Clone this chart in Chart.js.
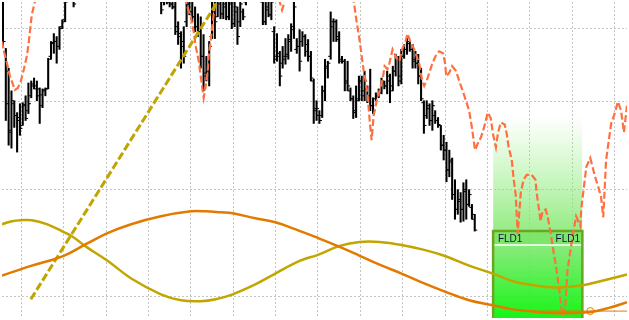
<!DOCTYPE html>
<html>
<head>
<meta charset="utf-8">
<script src="https://cdn.jsdelivr.net/npm/chart.js@4.4.1/dist/chart.umd.min.js"></script>
<style>
  html, body { margin: 0; padding: 0; background: #fff; }
  #wrap { width: 629px; height: 320px; }
</style>
</head>
<body>
<div id="wrap"><canvas id="cycleChart" width="629" height="320"></canvas></div>
<script>
// grid lines (bar index / price level)
var xGrid = [6.5, 21.5, 36.5, 51.5, 66.5, 81.5, 96.5, 111.5, 126.5, 141.5, 156.5, 171.5, 186.5, 201.5, 216.5];
var yGrid = [22, 130, 219, 293];

// OHLC bars, one per index 0..167
var priceHigh = [330,273,253,230,220,208,217,218,225,238, 240,243,240,233,232,233,263,280,288,285,
  295,302,325,345,350,340,355,360,365,370, 368,375,380,378,385,382,390,388,392,395,
  390,385,380,375,378,372,368,370,365,360, 362,358,355,350,352,348,335,330,332,328,
  325,320,300,290,295,325,328,325,315,308, 305,287,265,280,320,325,328,326,325,324,
  325,320,323,315,323,313,330,340,345,348, 345,340,325,323,328,325,295,288,270,275,
  283,287,298,320,283,292,290,287,282,270, 242,220,210,235,262,260,310,303,302,290,
  265,262,260,233,225,235,245,245,250,235, 252,223,228,232,243,240,250,247,255,267,
  265,272,277,283,280,277,270,267,253,220, 220,217,220,210,203,195,185,178,170,162,
  140,130,127,137,140,130,115,105];
var priceLow = [275,200,175,172,193,168,185,195,200,207, 223,232,220,197,213,225,232,262,268,258,
  272,293,300,325,328,315,332,338,345,348, 340,350,355,358,360,362,365,368,370,372,
  370,365,358,350,355,348,345,350,340,335, 340,332,330,328,330,325,308,317,318,315,
  313,287,277,253,258,295,307,300,290,285, 253,230,240,235,283,283,305,303,303,302,
  302,293,295,277,295,302,317,322,325,328, 325,322,297,297,305,302,258,260,235,253,
  257,262,270,283,268,250,275,265,260,240, 197,200,197,203,220,243,262,280,280,258,
  258,230,230,220,202,203,220,220,220,218, 210,207,220,223,227,232,227,218,230,245,
  235,237,263,267,270,253,253,237,220,187, 202,195,190,197,193,170,160,138,143,120,
  100,105,97,98,100,113,100,88];
var priceOpen = [300,270,250,190,217,205,200,195,215,210, 225,235,232,225,215,230,232,265,278,280,
  275,295,302,335,332,335,335,345,350,360, 350,365,370,375,362,380,370,385,375,388,
  380,372,368,360,355,370,350,352,362,345, 340,352,335,340,332,345,330,320,325,320,
  318,315,295,288,275,300,318,310,305,295, 290,265,248,250,285,310,305,318,308,315,
  305,318,298,310,300,310,320,325,335,340, 332,338,320,300,312,307,290,265,265,258,
  262,265,280,295,272,275,280,285,277,265, 240,210,205,205,230,255,265,295,300,285,
  262,260,240,230,222,210,222,240,230,232, 225,215,222,225,230,238,235,240,235,250,
  262,245,265,272,278,272,260,258,245,218, 205,212,200,205,200,195,175,170,150,158,
  125,110,118,110,128,115,112,100];
var priceClose = [280,217,188,220,205,203,192,216,202,217, 237,235,232,226,231,232,262,279,280,275,
  293,300,320,340,345,318,350,355,360,352, 365,372,378,362,382,370,388,372,390,380,
  372,368,360,355,375,350,348,365,345,338, 355,335,340,332,348,328,312,325,320,318,
  315,290,285,280,265,318,310,305,295,290, 265,245,255,275,315,300,322,308,318,305,
  320,298,315,285,318,305,325,335,340,332, 338,325,300,315,307,320,262,268,245,265,
  267,282,292,315,275,260,285,270,265,243, 212,212,200,230,253,258,300,300,282,260,
  260,238,235,222,208,220,240,225,240,225, 215,210,225,228,240,235,245,230,250,262,
  240,265,272,280,272,262,258,245,222,195, 215,200,215,200,196,175,170,150,160,125,
  110,120,110,130,115,125,105,89];

// forward-displaced line (dashed orange)
var fldX = [-0.35,0.35,1.41,2.46,4.22,5.28,6.33,7.39,8.44,9.15,10.2,11.26,12.3,20.8,34.8,52.4,63.0,
  64.72,66.48,67.5,68.24,69.3,70.0,70.7,71.05,71.76,72.46,72.8,73.5,74.2,74.9,75.6,87.6,97.4,98.8,100.2,
  112.2,122.8,124.2,125.2,126.3,127.0,127.7,128.4,129.1,129.8,130.5,131.2,132.3,133.3,134.4,135.1,136.1,
  136.8,137.9,139.3,140.3,141.4,142.5,143.2,144.2,145.6,147.4,148.4,149.1,150.2,151.9,153.4,154.4,155.8,
  156.5,156.9,157.9,159.0,160.4,161.5,162.5,163.9,165.0,166.0,167.1,168.1,169.2,170.2,171.6,172.7,173.4,
  174.5,175.2,176.2,177.6,178.3,179.0,180.1,180.8,181.5,182.2,183.3,184.3,185.4,187.1,188.5,188.9,189.6,
  190.3,191.0,192.1,192.8,193.8,194.9,195.9,197.0,198.0,199.1,199.8,200.8,201.9,202.9,204.4,204.7,205.4,
  206.5,207.9,209.6,210.7,211.7,212.5,213.5,215.3,216.3,217.7,218.8,219.8,220.9];
var fldY = [280,270,258,245,231,233,240,252,265,280,307,320,340,360,380,360,335,
  320,305,290,275,260,245,230,223,235,250,265,280,298,315,330,360,325,312,325,
  360,330,320,300,280,265,250,240,225,200,180,205,220,230,242,255,252,
  258,272,263,260,273,280,288,280,272,257,240,235,242,257,267,270,268,
  258,245,248,255,250,240,232,220,210,193,170,177,183,192,208,202,187,
  173,187,198,196,187,173,160,140,125,85,127,140,145,145,140,127,113,
  98,108,110,103,87,67,50,27,2,13,47,67,87,103,93,110,127,
  153,162,143,133,123,102,160,197,205,219,210,188,215];

// trend line (dashed olive)
var trendX = [9.85, 80.5];
var trendY = [19, 341];

// cycle components
var cycleAX = [-0.35,3.17,6.33,10.2,15.5,20.8,24.3,29.5,37.0,45.4,55.9,63.0,70.0,75.3,81.3,89.3,96.4,105.2,111.5,
  119.2,126.3,133.3,141.1,149.1,156.2,165.0,173.4,180.8,186.1,194.9,204.7,212.5,220.9];
var cycleAY = [95,98,99,99,95,88,83,72,58,40,24,18,17,19,24,34,45,58,64,
  73,77,77,74,69,63,53,45,37,34,31,33,38,44];
var cycleBX = [-0.35,10.2,21.5,29.5,37.0,45.4,55.9,66.5,71.8,77.0,81.3,89.3,96.4,103.4,111.5,119.2,126.3,133.3,
  141.1,149.1,156.2,165.0,173.4,179.7,186.1,194.9,201.9,207.9,214.2,220.9];
var cycleBY = [43,53,63,75,86,95,103,108,108,107,106,101,97,90,81,72,63,54,
  45,35,27,18,13,9,7,5,5,6,10,16];

// projected low marker line
var lowLineX = [186, 207.9, 220.9];
var lowLineY = [7, 7, 7];

// FLD target box
var boxStart = 173.5, boxEnd = 205.1;
var boxGlowTop = 205, boxTop = 88, boxHeader = 74, boxBottom = -5;
var labelX = [175.2, 195.6], labelLevel = 77;

function pts(xs, ys) {
  return xs.map(function(x, i) { return {x: x, y: ys[i]}; });
}

function vGradient(context, fromVal, toVal, stops) {
  var chart = context.chart;
  if (!chart.chartArea) return null;
  var ys = chart.scales.y;
  var g = chart.ctx.createLinearGradient(0, ys.getPixelForValue(fromVal), 0, ys.getPixelForValue(toVal));
  stops.forEach(function(s) { g.addColorStop(s[0], s[1]); });
  return g;
}

var fldLabels = {
  id: 'fldLabels',
  afterDatasetsDraw: function(chart) {
    var ctx = chart.ctx, xs = chart.scales.x, ys = chart.scales.y;
    ctx.save();
    ctx.font = '10px "Liberation Sans", Arial, sans-serif';
    ctx.fillStyle = '#10143a';
    labelX.forEach(function(x) {
      ctx.fillText('FLD1', xs.getPixelForValue(x), ys.getPixelForValue(labelLevel));
    });
    ctx.restore();
  }
};

var flat = { pointRadius: 0, pointHoverRadius: 0 };

new Chart(document.getElementById('cycleChart'), {
  type: 'line',
  data: {
    datasets: [
      Object.assign({ // glow above box
        data: pts([boxStart, boxEnd], [boxGlowTop, boxGlowTop]),
        fill: {value: boxTop}, borderWidth: 0, order: 30,
        backgroundColor: function(c) {
          return vGradient(c, boxGlowTop, boxTop, [[0, 'rgba(150,240,130,0)'], [1, 'rgba(130,232,110,0.85)']]);
        }
      }, flat),
      Object.assign({ // header band
        data: pts([boxStart, boxEnd], [boxTop, boxTop]),
        fill: {value: boxHeader}, borderWidth: 0, order: 29,
        backgroundColor: 'rgba(112,226,92,0.9)'
      }, flat),
      Object.assign({ // box body
        data: pts([boxStart, boxEnd], [boxHeader, boxHeader]),
        fill: {value: boxBottom}, borderWidth: 0, order: 28,
        backgroundColor: function(c) {
          return vGradient(c, boxHeader, 0, [[0, 'rgba(125,232,110,0.9)'], [1, 'rgba(10,245,10,0.95)']]);
        }
      }, flat),
      Object.assign({ // divider
        data: pts([boxStart, boxEnd], [boxHeader, boxHeader]),
        borderColor: '#ffffff', borderWidth: 1.5, order: 27
      }, flat),
      Object.assign({ // outline
        data: pts([boxStart, boxStart, boxEnd, boxEnd], [boxBottom, boxTop, boxTop, boxBottom]),
        borderColor: '#6aa61e', borderWidth: 2.5, order: 26
      }, flat),
      { // price bars
        type: 'bar', grouped: false, barThickness: 1.4, order: 8,
        backgroundColor: '#000000',
        data: priceHigh.map(function(h, i) { return {x: i, y: [priceLow[i], h]}; })
      },
      { // open ticks
        showLine: false, order: 7, pointStyle: 'line', pointRadius: 1, pointBorderWidth: 1,
        pointBorderColor: '#000000', pointHoverRadius: 0,
        data: priceOpen.map(function(o, i) { return {x: i - 0.55, y: o}; })
      },
      { // close ticks
        showLine: false, order: 7, pointStyle: 'line', pointRadius: 1, pointBorderWidth: 1,
        pointBorderColor: '#000000', pointHoverRadius: 0,
        data: priceClose.map(function(c, i) { return {x: i + 0.55, y: c}; })
      },
      Object.assign({
        data: pts(fldX, fldY), borderColor: '#ff7040', borderWidth: 2.2,
        borderDash: [7, 3], tension: 0, order: 5
      }, flat),
      Object.assign({
        data: pts(trendX, trendY), borderColor: '#c0a400', borderWidth: 3,
        borderDash: [8, 3], order: 4
      }, flat),
      Object.assign({
        data: pts(cycleAX, cycleAY), borderColor: '#c2a600', borderWidth: 2.5,
        tension: 0.4, order: 3
      }, flat),
      Object.assign({
        data: pts(cycleBX, cycleBY), borderColor: '#e27a00', borderWidth: 2.5,
        tension: 0.4, order: 2
      }, flat),
      {
        data: pts(lowLineX, lowLineY), borderColor: '#e27a00', borderWidth: 1, order: 1,
        pointRadius: [0, 3.5, 0], pointBorderColor: '#e27a00', pointBackgroundColor: 'rgba(0,0,0,0)',
        pointBorderWidth: 1, pointHoverRadius: 0
      }
    ]
  },
  options: {
    responsive: false,
    animation: false,
    events: [],
    layout: { padding: 0 },
    plugins: { legend: { display: false }, tooltip: { enabled: false } },
    scales: {
      x: {
        type: 'linear', min: -0.35, max: 220.9, offset: false,
        ticks: { display: false },
        grid: { color: '#c4c4c4', drawTicks: false, offset: false },
        border: { display: false, dash: [2, 2] },
        afterBuildTicks: function(s) { s.ticks = xGrid.map(function(v) { return {value: v}; }); }
      },
      y: {
        type: 'linear', min: 0, max: 320,
        ticks: { display: false },
        grid: { color: '#c4c4c4', drawTicks: false },
        border: { display: false, dash: [2, 2] },
        afterBuildTicks: function(s) { s.ticks = yGrid.map(function(v) { return {value: v}; }); }
      }
    }
  },
  plugins: [fldLabels]
});
</script>
</body>
</html>
